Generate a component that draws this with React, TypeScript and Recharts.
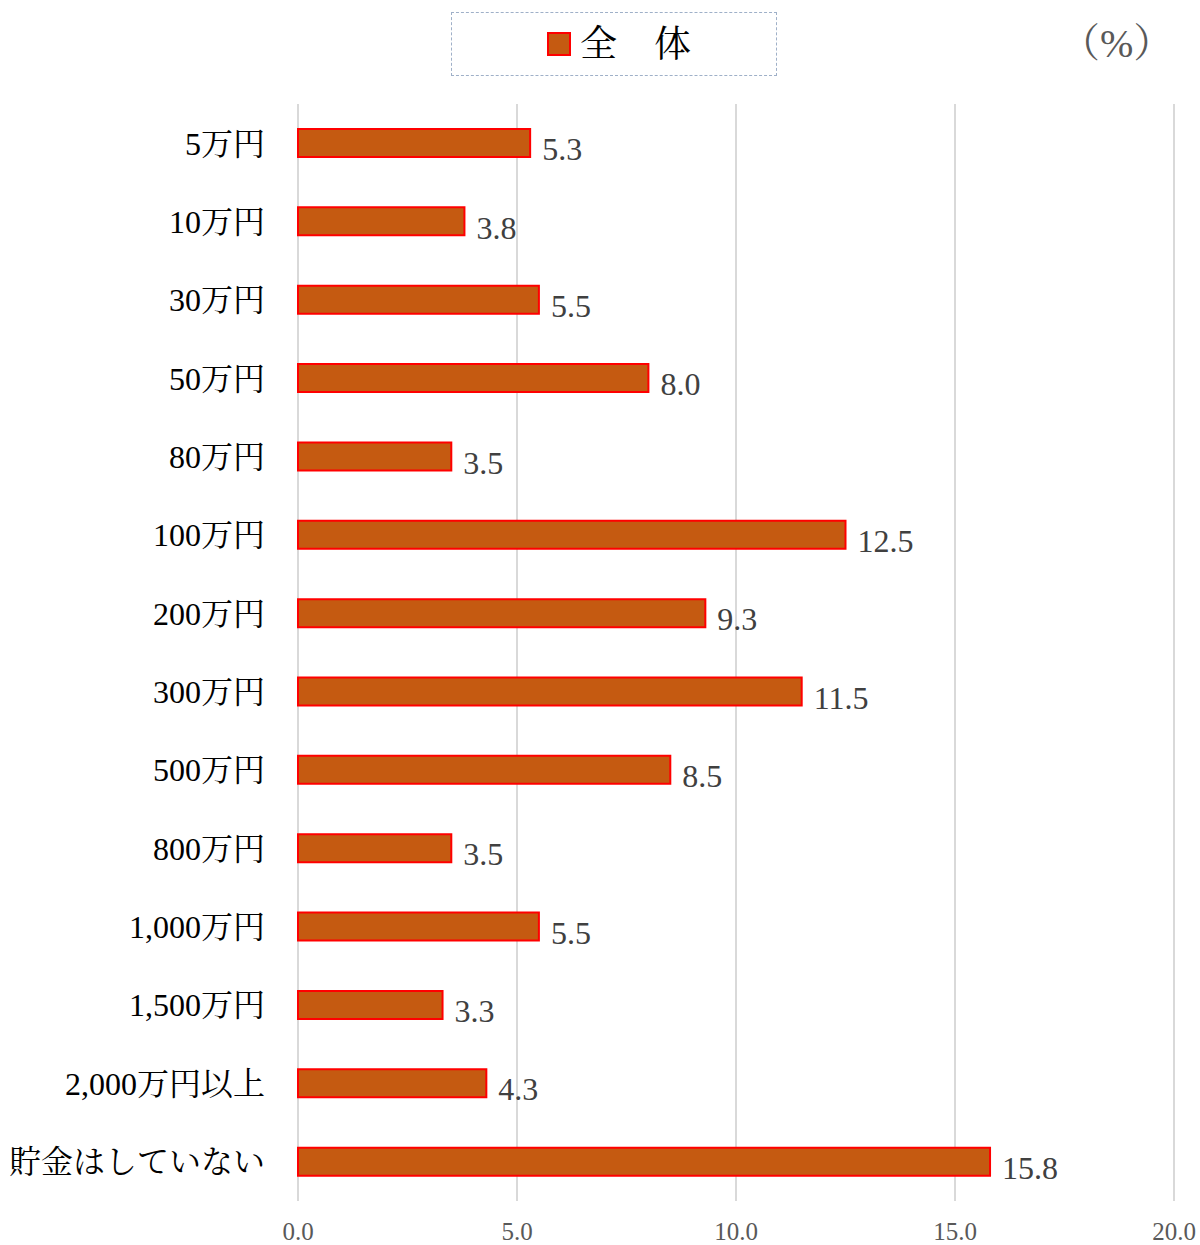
import { BarChart, Bar, XAxis, YAxis, CartesianGrid, LabelList } from 'recharts';

const categories = [
  '5万円', '10万円', '30万円', '50万円', '80万円', '100万円', '200万円',
  '300万円', '500万円', '800万円', '1,000万円', '1,500万円', '2,000万円以上', '貯金はしていない',
];
const totals = [5.3, 3.8, 5.5, 8.0, 3.5, 12.5, 9.3, 11.5, 8.5, 3.5, 5.5, 3.3, 4.3, 15.8];
const xTicks = [0, 5, 10, 15, 20];
const seriesName = '全　体';

const FONT = "'Liberation Serif', 'Noto Serif CJK JP', 'Noto Sans CJK JP', serif";
const BAR_FILL = '#c55a11';
const BAR_STROKE = '#ff0000';

const rows = categories.map((c, i) => ({ name: c, value: totals[i] }));

function LegendBox() {
  return (
    <div style={{
      position: 'absolute', left: 451, top: 12,
      width: 326, height: 64, boxSizing: 'border-box', border: '1px dashed #9fb0c8',
      display: 'flex', alignItems: 'center', justifyContent: 'center', background: '#fff',
    }}>
      <span style={{
        display: 'inline-block', width: 20, height: 20, background: BAR_FILL,
        border: `2px solid ${BAR_STROKE}`, marginRight: 9, marginLeft: 10,
      }} />
      <span style={{ fontFamily: FONT, fontSize: 37, color: '#000', lineHeight: 1 }}>{seriesName}</span>
    </div>
  );
}

function ValueLabel(props: any) {
  const { x, y, width, height, value } = props;
  return (
    <text x={x + width + 12} y={y + height / 2 + 6} dy="0.35em" fill="#404040"
      fontSize={32} fontFamily={FONT} textAnchor="start">
      {Number(value).toFixed(1)}
    </text>
  );
}

export default function App() {
  return (
    <div style={{ position: 'absolute', left: 0, top: 0, width: 1200, height: 1245, background: '#fff' }}>
      <BarChart width={1200} height={1245} data={rows} layout="vertical"
        margin={{ top: 104, right: 26, bottom: 0, left: 0 }}>
        <CartesianGrid horizontal={false} stroke="#d9d9d9" strokeWidth={2} />
        <XAxis type="number" domain={[0, 20]} ticks={xTicks} axisLine={false} tickLine={false}
          tickSize={0} tickMargin={21} height={44} interval={0}
          tickFormatter={(v: number) => v.toFixed(1)}
          tick={{ fill: '#595959', fontSize: 25, fontFamily: FONT }} />
        <YAxis type="category" dataKey="name" width={298} axisLine={false} tickLine={false}
          tickSize={0} tickMargin={33} interval={0}
          tick={{ fill: '#000', fontSize: 32, fontFamily: FONT }} />
        <Bar dataKey="value" name={seriesName} fill={BAR_FILL} stroke={BAR_STROKE} strokeWidth={2}
          barSize={28} isAnimationActive={false}>
          <LabelList dataKey="value" content={ValueLabel} />
        </Bar>
      </BarChart>
      <LegendBox />
      <div style={{
        position: 'absolute', left: 1060, top: 20, fontFamily: FONT, fontSize: 40, color: '#595959',
        lineHeight: 1.2,
      }}>（%）</div>
    </div>
  );
}
